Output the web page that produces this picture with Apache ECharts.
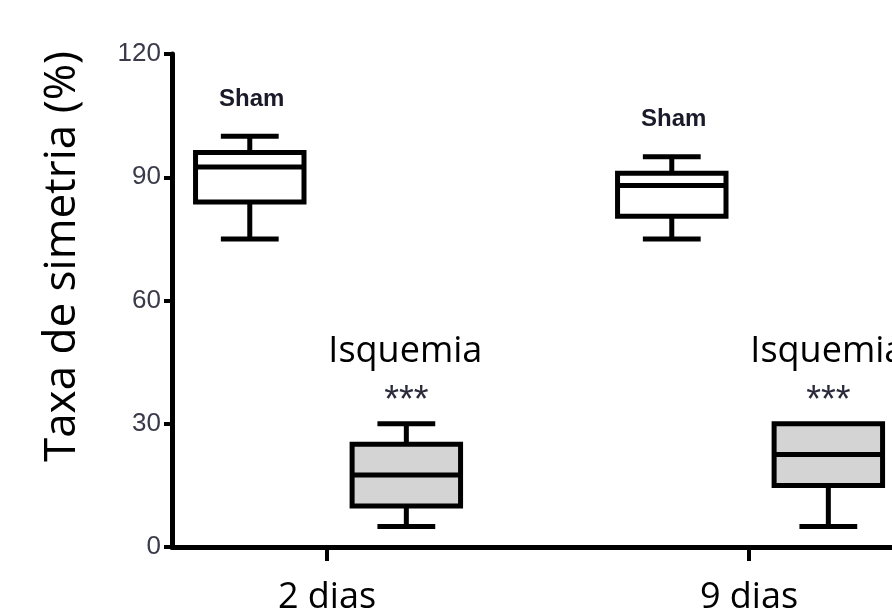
<!DOCTYPE html>
<html><head><meta charset="utf-8">
<script src="https://cdn.jsdelivr.net/npm/echarts@6/dist/echarts.min.js"></script>
<style>html,body{margin:0;padding:0;background:#fff}#c{width:892px;height:616px}</style>
</head><body><div id="c"></div>
<script>
// ---- data ----
const categories = ['2 dias', '9 dias'];
const groupNames = ['Sham', 'Isquemia'];
// [min, Q1, median, Q3, max] for each category
const shamValues = [[75, 84, 92.5, 96, 100], [75, 80.5, 88, 91, 95]];
const isquemiaValues = [[5, 10, 17.5, 25, 30], [5, 15, 22.5, 30, 30]];
const isquemiaMarks = ['***', '***'];
const yTicks = [0, 30, 60, 90, 120];

// ---- layout constants ----
const PX_PER_UNIT = 422;
const X_MIN = 1 - 155 / PX_PER_UNIT;
const X_MAX = X_MIN + 720 / PX_PER_UNIT;
const BOX_W = 0.257, CAP_W = 0.137;
const OFFSETS = [-0.183, 0.188];
const LW = 5;

function toData(vals) { return vals.map((v, i) => [i + 1].concat(v)); }

function makeRender(gi, fill) {
  return function (params, api) {
    const x = api.value(0) + OFFSETS[gi];
    const pMin = api.coord([x, api.value(1)]);
    const pQ1 = api.coord([x, api.value(2)]);
    const pMed = api.coord([x, api.value(3)]);
    const pQ3 = api.coord([x, api.value(4)]);
    const pMax = api.coord([x, api.value(5)]);
    const bw = api.size([BOX_W, 0])[0];
    const cw = api.size([CAP_W, 0])[0];
    const cx = pMin[0];
    const st = { stroke: '#000', lineWidth: LW, fill: 'none', lineCap: 'butt' };
    const ch = [];
    if (pMax[1] < pQ3[1] - 1) {
      ch.push({ type: 'line', shape: { x1: cx, y1: pQ3[1], x2: cx, y2: pMax[1] }, style: st });
      ch.push({ type: 'line', shape: { x1: cx - cw / 2, y1: pMax[1], x2: cx + cw / 2, y2: pMax[1] }, style: st });
    }
    ch.push({ type: 'line', shape: { x1: cx, y1: pQ1[1], x2: cx, y2: pMin[1] }, style: st });
    ch.push({ type: 'line', shape: { x1: cx - cw / 2, y1: pMin[1], x2: cx + cw / 2, y2: pMin[1] }, style: st });
    ch.push({ type: 'rect', shape: { x: cx - bw / 2, y: pQ3[1], width: bw, height: pQ1[1] - pQ3[1] },
      style: { stroke: '#000', lineWidth: LW, fill: fill, lineJoin: 'miter' } });
    ch.push({ type: 'line', shape: { x1: cx - bw / 2, y1: pMed[1], x2: cx + bw / 2, y2: pMed[1] }, style: st });
    if (gi === 0) {
      ch.push({ type: 'text', style: { text: groupNames[0], x: cx + 2, y: pMax[1] - 37, align: 'center', verticalAlign: 'middle',
        font: 'bold 24px "Liberation Sans", Arial, sans-serif', fill: '#1a1a2a' } });
    } else {
      ch.push({ type: 'text', style: { text: isquemiaMarks[params.dataIndex], x: cx, y: pMax[1] - 22, align: 'center', verticalAlign: 'middle',
        font: '38px "Liberation Sans", Arial, sans-serif', fill: '#2a2a3a' } });
      ch.push({ type: 'text', style: { text: groupNames[1], x: cx - 1, y: pMax[1] - 72, align: 'center', verticalAlign: 'middle',
        font: '36px "Open Sans", sans-serif', fill: '#000' } });
    }
    return { type: 'group', children: ch };
  };
}

const chart = echarts.init(document.getElementById('c'), null, { renderer: 'canvas' });
chart.setOption({
  animation: false,
  backgroundColor: '#fff',
  grid: { left: 172, top: 54, width: 720, height: 493, containLabel: false },
  xAxis: {
    type: 'value', min: X_MIN, max: X_MAX,
    splitLine: { show: false },
    axisLine: { show: true, lineStyle: { color: '#000', width: LW } },
    axisTick: { show: true, customValues: [1, 2], length: 14, lineStyle: { color: '#000', width: 4 } },
    axisLabel: { show: true, customValues: [1, 2], margin: 33, formatter: v => categories[Math.round(v) - 1] || '',
      fontFamily: '"Open Sans", sans-serif', fontSize: 36, color: '#000' }
  },
  yAxis: {
    type: 'value', min: 0, max: 120, interval: 30,
    name: 'Taxa de simetria (%)', nameLocation: 'middle', nameGap: 88,
    nameTextStyle: { fontFamily: '"Open Sans", sans-serif', fontSize: 44, color: '#000', padding: [0, 0, 0, 88] },
    splitLine: { show: false },
    axisLine: { show: true, lineStyle: { color: '#000', width: LW } },
    axisTick: { show: true, customValues: yTicks, length: 8, lineStyle: { color: '#000', width: 4 } },
    axisLabel: { customValues: yTicks, margin: 11, fontFamily: '"Liberation Sans", Arial, sans-serif', fontSize: 26, color: '#3a3a4a' }
  },
  series: [
    { type: 'custom', name: groupNames[0], renderItem: makeRender(0, '#fff'), encode: { x: 0, y: [1, 2, 3, 4, 5] }, data: toData(shamValues), clip: false },
    { type: 'custom', name: groupNames[1], renderItem: makeRender(1, '#d4d4d4'), encode: { x: 0, y: [1, 2, 3, 4, 5] }, data: toData(isquemiaValues), clip: false }
  ]
});
</script>
</body></html>
